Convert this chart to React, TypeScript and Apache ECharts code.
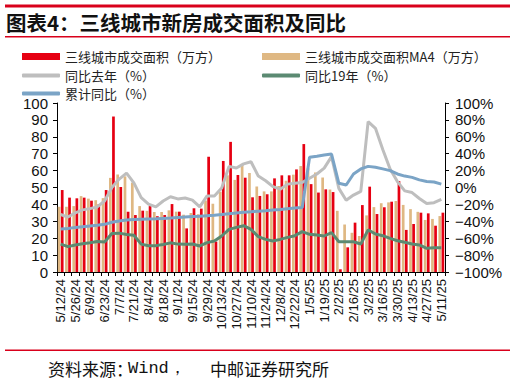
import React, { useEffect, useRef } from "react";
import * as echarts from "echarts";

const dates = [
  "5/12/24", "5/19/24", "5/26/24", "6/2/24", "6/9/24", "6/16/24", "6/23/24", "6/30/24",
  "7/7/24", "7/14/24", "7/21/24", "7/28/24", "8/4/24", "8/11/24", "8/18/24", "8/25/24",
  "9/1/24", "9/8/24", "9/15/24", "9/22/24", "9/29/24", "10/6/24", "10/13/24", "10/20/24",
  "10/27/24", "11/3/24", "11/10/24", "11/17/24", "11/24/24", "12/1/24", "12/8/24", "12/15/24",
  "12/22/24", "12/29/24", "1/5/25", "1/12/25", "1/19/25", "1/26/25", "2/2/25", "2/9/25",
  "2/16/25", "2/23/25", "3/2/25", "3/9/25", "3/16/25", "3/23/25", "3/30/25", "4/6/25",
  "4/13/25", "4/20/25", "4/27/25", "5/4/25", "5/11/25",
];

// 三线城市成交面积（万方）
const area = [
  48.5, 44, 43.6, 44, 42.2, 40, 48.5, 92, 50.3, 35.6,
  33.7, 36.3, 39, 33, 33.7, 40.2, 35.7, 25.8, 37.7, 37.5,
  68.2, 18, 65.7, 77, 57.4, 55.8, 44.2, 45, 46, 55.4,
  57.2, 57.2, 60.7, 75.7, 52, 47, 48.9, 47.3, 1.6, 14.6,
  29.2, 39.6, 50.5, 34.3, 38.3, 41.6, 53.8, 24.9, 28.4, 35.1,
  34.7, 27.4, 35.1,
];

// 三线城市成交面积MA4（万方）
const areaMA4 = [
  38.6, 38.6, 39, 44.9, 43.4, 42.5, 43.7, 55.7, 57.7, 56.6,
  52.9, 39, 36.2, 35.5, 35.5, 36.5, 35.7, 33.9, 34.9, 34.2,
  42.3, 40.4, 47.4, 57.2, 54.5, 64, 58.6, 50.6, 47.7, 47.7,
  50.9, 54, 57.6, 62.7, 61.4, 58.9, 55.9, 48.8, 36.2, 28.1,
  23.2, 21.3, 33.5, 38.4, 40.7, 41.2, 42, 39.7, 37.2, 35.6,
  30.8, 31.4, 33.1,
];

// 同比去年（%）
const yoyLastYear = [
  -32, -35, -30, -26.5, -25, -23, -16, 0, 10, 17,
  5.5, -12, -19.6, -23, -16, -11, -13.5, -12.5, -15, -23,
  -10, -10, -0.5, 25, 23, 28, 30.5, 13.5, 8, 1,
  -2, 4, 5, 6, 11, 16, 23, 36.5, -1, -15,
  -9, -4.5, 78, 70, 45, 22, 7, -4, -6, -13,
  -19, -18, -14,
];

// 同比19年（%）
const yoy2019 = [
  -67, -70, -68, -66.5, -65.5, -64, -64.5, -54.5, -54, -55.5,
  -56.5, -67, -69, -68.8, -67.5, -65.5, -67, -67.2, -66.8, -69.2,
  -65.2, -63.4, -57.4, -49.6, -47.2, -45.2, -49.6, -58.2, -61.4, -63.4,
  -61.4, -59, -57, -52.2, -55.4, -56.2, -57.4, -53.4, -64.2, -64.2,
  -64.2, -66.8, -50.2, -55, -57, -60.2, -63, -64.8, -66.8, -68,
  -72, -71.2, -71.2,
];

// 累计同比（%）
const cumYoy = [
  -49, -48.4, -47.2, -46.4, -45.6, -44.8, -43.6, -41.2, -39.6, -38.4,
  -38, -37.6, -37.2, -37, -36.6, -36.2, -35.6, -35, -34.4, -34,
  -33.4, -32.8, -32, -31, -30.2, -29.4, -28.8, -28, -27.4, -26.6,
  -26, -25.2, -24.4, -23.6, 35.8, 37, 38.4, 39.6, 5, 3,
  16, 22, 25, 24, 22, 20, 16, 13.5, 12, 9,
  7, 6.5, 4,
];

const leftTicks = { min: 0, max: 100, interval: 10 };
const rightTicks = { min: -100, max: 100, interval: 20 };

const names = {
  area: "三线城市成交面积（万方）",
  ma4: "三线城市成交面积MA4（万方）",
  yoy: "同比去年（%）",
  yoy19: "同比19年（%）",
  cum: "累计同比（%）",
};

const colors = {
  red: "#E60012",
  beige: "#DFB883",
  grey: "#BEBEBE",
  green: "#5B8A72",
  blue: "#7BA4C6",
};

const CJK = "'Noto Sans CJK SC', sans-serif";
const LATIN = "'Liberation Sans', Arial, sans-serif";
const MONO = "'Liberation Mono', 'DejaVu Sans Mono', monospace";

export default function App() {
  const ref = useRef<HTMLDivElement>(null);

  useEffect(() => {
    if (!ref.current) return;
    const chart = echarts.init(ref.current, undefined, { renderer: "svg" });

    const legendBase = (name: string, left: number, top: number, icon: string, h: number) => ({
      data: [name],
      left,
      top,
      padding: 0,
      itemWidth: 38,
      itemHeight: h,
      icon,
      textStyle: { fontSize: 13, color: "#222", fontFamily: CJK },
      selectedMode: false,
    });

    const option: any = {
      animation: false,
      backgroundColor: "#ffffff",
      textStyle: { fontFamily: LATIN },
      grid: { left: 57, right: 71, top: 103, bottom: 113, outerBoundsMode: "none" },
      legend: [
        legendBase(names.area, 22, 50, "rect", 7),
        legendBase(names.ma4, 262, 50, "rect", 7),
        legendBase(names.yoy, 22, 69, "roundRect", 4),
        legendBase(names.yoy19, 262, 69, "roundRect", 4),
        legendBase(names.cum, 22, 87, "roundRect", 4),
      ],
      graphic: [
        { type: "rect", left: 5, top: 4.5, shape: { width: 505, height: 3 }, style: { fill: "#D9001B" } },
        {
          type: "text",
          left: 6,
          top: 12,
          style: { text: "图表4：三线城市新房成交面积及同比", fontSize: 20.5, fontWeight: "bold", fill: "#111", fontFamily: CJK },
        },
        { type: "rect", left: 5, top: 36, shape: { width: 505, height: 1.5 }, style: { fill: "#D9001B" } },
        { type: "rect", left: 5, top: 349.5, shape: { width: 505, height: 1.5 }, style: { fill: "#D9001B" } },
        {
          type: "text",
          left: 48,
          top: 360,
          style: { text: "资料来源：", fontSize: 17, fill: "#111", fontFamily: CJK },
        },
        {
          type: "text",
          left: 128,
          top: 360,
          style: { text: "Wind，", fontSize: 17, fill: "#111", fontFamily: MONO },
        },
        {
          type: "text",
          left: 210,
          top: 360,
          style: { text: "中邮证券研究所", fontSize: 17, fill: "#111", fontFamily: CJK },
        },
      ],
      xAxis: {
        type: "category",
        data: dates,
        boundaryGap: true,
        axisLine: { show: true, lineStyle: { color: "#000", width: 1 } },
        axisTick: { show: true, interval: 0, length: 4, lineStyle: { color: "#000" } },
        axisLabel: { interval: 1, rotate: 90, fontSize: 13, color: "#111", margin: 7, fontFamily: LATIN },
        splitLine: { show: false },
      },
      yAxis: [
        {
          type: "value",
          ...leftTicks,
          position: "left",
          splitLine: { show: false },
          axisLine: { show: true, lineStyle: { color: "#000", width: 1 } },
          axisTick: { show: true, length: 4, lineStyle: { color: "#000" } },
          axisLabel: { fontSize: 15, color: "#111", margin: 9, fontFamily: LATIN },
        },
        {
          type: "value",
          ...rightTicks,
          position: "right",
          splitLine: { show: false },
          axisLine: { show: true, lineStyle: { color: "#000", width: 1 } },
          axisTick: { show: true, length: 4, lineStyle: { color: "#000" } },
          axisLabel: {
            fontSize: 15,
            color: "#111",
            margin: 10,
            fontFamily: LATIN,
            formatter: (v: number) => (v < 0 ? "\u2212" + Math.abs(v) : String(v)) + "%",
          },
        },
      ],
      series: [
        {
          name: names.ma4,
          type: "bar",
          data: areaMA4,
          barWidth: 2.7,
          barGap: "15%",
          itemStyle: { color: colors.beige },
          color: colors.beige,
        },
        {
          name: names.area,
          type: "bar",
          data: area,
          barWidth: 2.7,
          barGap: "15%",
          itemStyle: { color: colors.red },
          color: colors.red,
        },
        {
          name: names.yoy,
          type: "line",
          yAxisIndex: 1,
          data: yoyLastYear,
          symbol: "none",
          lineStyle: { color: colors.grey, width: 3 },
          itemStyle: { color: colors.grey },
          color: colors.grey,
          z: 3,
        },
        {
          name: names.yoy19,
          type: "line",
          yAxisIndex: 1,
          data: yoy2019,
          symbol: "none",
          lineStyle: { color: colors.green, width: 3 },
          itemStyle: { color: colors.green },
          color: colors.green,
          z: 4,
        },
        {
          name: names.cum,
          type: "line",
          yAxisIndex: 1,
          data: cumYoy,
          symbol: "none",
          lineStyle: { color: colors.blue, width: 3 },
          itemStyle: { color: colors.blue },
          color: colors.blue,
          z: 5,
        },
      ],
    };

    chart.setOption(option);
    return () => chart.dispose();
  }, []);

  return (
    <div
      ref={ref}
      style={{ position: "fixed", left: 0, top: 0, width: 516, height: 385, background: "#fff" }}
    />
  );
}
